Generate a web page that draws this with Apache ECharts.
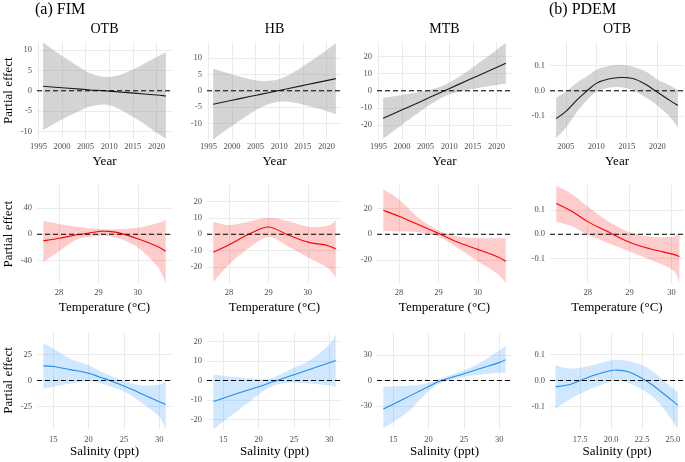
<!DOCTYPE html>
<html><head><meta charset="utf-8">
<script src="https://cdn.jsdelivr.net/npm/echarts@6/dist/echarts.min.js"></script>
<style>html,body{margin:0;padding:0;background:#fff}#c{width:685px;height:462px}</style>
</head><body><div id="c"></div>
<script>
// ---------- tick labels ----------
const yearTicksFIM = [1995, 2000, 2005, 2010, 2015, 2020];
const yearTicksPDEM = [2005, 2010, 2015, 2020];
const tempTicks = [28, 29, 30];
const salTicksFIM = [15, 20, 25, 30];
const salTicksPDEM = [17.5, 20, 22.5, 25];
const yTicksOtbYear = [-10, -5, 0, 5, 10];
const yTicksHbYear = [-10, -5, 0, 5, 10];
const yTicksMtbYear = [-20, -10, 0, 10, 20];
const yTicksPdem = [-0.1, 0, 0.1];
const yTicksOtbTemp = [-40, 0, 40];
const yTicksHbTemp = [-20, -10, 0, 10, 20];
const yTicksMtbTemp = [-20, 0, 20];
const yTicksOtbSal = [-25, 0, 25];
const yTicksHbSal = [-20, -10, 0, 10, 20];
const yTicksMtbSal = [-30, 0, 30];

// ---------- Year ----------
const fimYearX = [1996, 2000, 2004, 2006, 2009, 2012, 2016, 2020, 2022];
const fimOtbYearFit = [1.1, 0.75, 0.4, 0.2, 0.0, -0.3, -0.65, -1.05, -1.3];
const fimOtbYearLo = [-9.7, -7.1, -4.8, -3.9, -3.4, -4.4, -7.1, -10.3, -11.9];
const fimOtbYearHi = [11.9, 8.6, 5.6, 4.3, 3.4, 3.8, 5.8, 8.3, 9.5];
const fimHbYearFit = [-4.1, -2.9, -1.7, -1.1, -0.2, 0.7, 1.9, 3.1, 3.7];
const fimHbYearLo = [-14.9, -10.8, -6.9, -5.2, -3.6, -3.4, -4.6, -6.2, -7.2];
const fimHbYearHi = [6.7, 5.0, 3.5, 3.0, 3.2, 4.8, 8.4, 12.4, 14.6];
const fimMtbYearFit = [-16, -11.1, -6.2, -3.7, 0, 3.7, 8.6, 13.5, 16];
const fimMtbYearLo = [-27.8, -19.7, -11.8, -8.0, -3.3, -0.6, 1.6, 3.4, 4.2];
const fimMtbYearHi = [-4.2, -2.5, -0.6, 0.6, 3.3, 8.0, 15.6, 23.6, 27.8];
const pdemYearX = [2003.4, 2005, 2007, 2008.5, 2010, 2012, 2014, 2016, 2018, 2019.3, 2020, 2022, 2023.4];
const pdemOtbYearFit = [-0.110, -0.081, -0.032, 0.0, 0.029, 0.046, 0.052, 0.048, 0.027, 0.006, -0.005, -0.037, -0.058];
const pdemOtbYearLo = [-0.186, -0.146, -0.078, -0.036, -0.004, 0.012, 0.014, 0.003, -0.025, -0.045, -0.058, -0.100, -0.145];
const pdemOtbYearHi = [-0.027, -0.004, 0.035, 0.057, 0.083, 0.097, 0.102, 0.095, 0.077, 0.057, 0.044, 0.022, 0.003];

// ---------- Temperature ----------
const fimOtbTempX = [27.6, 28, 28.5, 29, 29.2, 29.5, 30, 30.5, 30.71];
const fimOtbTempFit = [-10, -6, -0.5, 4.3, 4.5, 2.5, -7, -18.7, -26];
const fimOtbTempLo = [-42.5, -26, -7, -2.5, -2.5, -6, -20, -49, -74];
const fimOtbTempHi = [20, 15.7, 11, 8, 7.8, 8, 10, 16.7, 21.8];
const fimTempX = [27.6, 28, 28.5, 29, 29.5, 30, 30.5, 30.71];
const fimHbTempFit = [-11, -6.4, 0, 4.4, -0.4, -4.8, -6.8, -9];
const fimHbTempLo = [-29, -18.4, -8.4, -1.6, -7.4, -14, -20.4, -26.4];
const fimHbTempHi = [7.6, 5.6, 7.6, 10, 8, 4.6, 5.2, 8.6];
const fimMtbTempFit = [18.7, 14, 7.4, 0.7, -6.3, -11.8, -17.6, -21];
const fimMtbTempLo = [2.6, 2.1, 1.6, -1.8, -11, -21, -30.8, -38.2];
const fimMtbTempHi = [35, 27, 12.6, 3.0, -1.8, -3.2, -3.2, -3.2];
const pdemTempX = [27.25, 27.64, 28, 28.44, 29, 29.49, 30.03, 30.19];
const pdemOtbTempFit = [0.127, 0.093, 0.052, 0.014, -0.033, -0.060, -0.082, -0.092];
const pdemOtbTempLo = [0.052, 0.032, -0.003, -0.033, -0.071, -0.105, -0.147, -0.198];
const pdemOtbTempHi = [0.200, 0.164, 0.114, 0.059, 0.008, -0.010, -0.010, 0.004];

// ---------- Salinity ----------
const fimSalX = [13.6, 15, 17.4, 20, 21.6, 23, 25, 27.3, 30, 30.9];
const fimOtbSalFit = [14.1, 13.5, 10.5, 7, 3.2, 0, -5.4, -12.2, -20.5, -23];
const fimOtbSalLo = [-7.7, -6, -2.9, -0.6, -2.6, -5.5, -10.5, -20.5, -35, -47.5];
const fimOtbSalHi = [35.6, 30.8, 21, 14.7, 9, 5, -0.5, -4.5, -4, -0.5];
const fimHbSalFit = [-10.8, -9.1, -6.2, -3.2, -1.2, 0.5, 3.0, 5.8, 9.1, 10.3];
const fimHbSalLo = [-25, -21, -14.5, -7.2, -3.5, -1.8, -1.2, -1.5, -2.5, -3.5];
const fimHbSalHi = [3.0, 2.5, 1.5, 0.7, 1.0, 3.0, 6.5, 10.5, 18.5, 23.7];
const fimMtbSalX = [13.6, 16.9, 19.8, 21.8, 25, 27.3, 30, 30.9];
const fimMtbSalFit = [-33.5, -20, -8, 0, 8, 14, 21, 24.5];
const fimMtbSalLo = [-56, -38, -14, -2.5, 4.3, 7, 9, 9];
const fimMtbSalHi = [-7.4, -6.2, -3.5, 2.5, 12, 21, 35.4, 40.5];
const pdemSalX = [15.5, 16.8, 18.5, 20.0, 20.6, 21.4, 22.8, 23.9, 25.4];
const pdemOtbSalFit = [-0.024, -0.013, 0.018, 0.038, 0.039, 0.033, 0.0, -0.037, -0.094];
const pdemOtbSalLo = [-0.109, -0.068, -0.030, -0.003, -0.003, -0.009, -0.043, -0.087, -0.182];
const pdemOtbSalHi = [0.058, 0.045, 0.058, 0.077, 0.078, 0.075, 0.052, 0.014, -0.046];

// ---------- layout / styles ----------
const FONT = 'Liberation Serif';
const colL = [37, 207, 377, 550];
const colR = [172, 342, 512, 684];
const rowT = [42, 185, 332];
const rowB = [139.5, 283.5, 429];
const xLabelMargin = [3, 4.5, 6];
const lineColors = ['#1a1a1a', '#ff0000', '#1f8ef1'];
const bandColors = ['rgba(153,153,153,0.42)', 'rgba(255,0,0,0.2)', 'rgba(30,144,255,0.21)'];

const panels = [
  {r:0,c:0,x:fimYearX,fit:fimOtbYearFit,lo:fimOtbYearLo,hi:fimOtbYearHi,xt:yearTicksFIM,yt:yTicksOtbYear,xr:[1994.7,2023.3],ym:12,xd:0,yd:0},
  {r:0,c:1,x:fimYearX,fit:fimHbYearFit,lo:fimHbYearLo,hi:fimHbYearHi,xt:yearTicksFIM,yt:yTicksHbYear,xr:[1994.7,2023.3],ym:14.9,xd:0,yd:0},
  {r:0,c:2,x:fimYearX,fit:fimMtbYearFit,lo:fimMtbYearLo,hi:fimMtbYearHi,xt:yearTicksFIM,yt:yTicksMtbYear,xr:[1994.7,2023.3],ym:28.3,xd:0,yd:0},
  {r:0,c:3,x:pdemYearX,fit:pdemOtbYearFit,lo:pdemOtbYearLo,hi:pdemOtbYearHi,xt:yearTicksPDEM,yt:yTicksPdem,xr:[2002.4,2024.4],ym:0.192,xd:0,yd:1},
  {r:1,c:0,x:fimOtbTempX,fit:fimOtbTempFit,lo:fimOtbTempLo,hi:fimOtbTempHi,xt:tempTicks,yt:yTicksOtbTemp,xr:[27.44,30.87],ym:75,xd:0,yd:0},
  {r:1,c:1,x:fimTempX,fit:fimHbTempFit,lo:fimHbTempLo,hi:fimHbTempHi,xt:tempTicks,yt:yTicksHbTemp,xr:[27.44,30.87],ym:30,xd:0,yd:0},
  {r:1,c:2,x:fimTempX,fit:fimMtbTempFit,lo:fimMtbTempLo,hi:fimMtbTempHi,xt:tempTicks,yt:yTicksMtbTemp,xr:[27.44,30.87],ym:38.4,xd:0,yd:0},
  {r:1,c:3,x:pdemTempX,fit:pdemOtbTempFit,lo:pdemOtbTempLo,hi:pdemOtbTempHi,xt:tempTicks,yt:yTicksPdem,xr:[27.1,30.3],ym:0.203,xd:0,yd:1},
  {r:2,c:0,x:fimSalX,fit:fimOtbSalFit,lo:fimOtbSalLo,hi:fimOtbSalHi,xt:salTicksFIM,yt:yTicksOtbSal,xr:[12.7,31.8],ym:46.7,xd:0,yd:0},
  {r:2,c:1,x:fimSalX,fit:fimHbSalFit,lo:fimHbSalLo,hi:fimHbSalHi,xt:salTicksFIM,yt:yTicksHbSal,xr:[12.7,31.8],ym:24.9,xd:0,yd:0},
  {r:2,c:2,x:fimMtbSalX,fit:fimMtbSalFit,lo:fimMtbSalLo,hi:fimMtbSalHi,xt:salTicksFIM,yt:yTicksMtbSal,xr:[12.7,31.8],ym:57,xd:0,yd:0},
  {r:2,c:3,x:pdemSalX,fit:pdemOtbSalFit,lo:pdemOtbSalLo,hi:pdemOtbSalHi,xt:salTicksPDEM,yt:yTicksPdem,xr:[15.06,25.9],ym:0.185,xd:1,yd:1}
];

// Catmull-Rom smoothing of projected pixel points into cubic Bezier commands
function smoothCmds(pts) {
  let d = '';
  const n = pts.length;
  for (let i = 0; i < n - 1; i++) {
    const p0 = pts[Math.max(i - 1, 0)], p1 = pts[i], p2 = pts[i + 1], p3 = pts[Math.min(i + 2, n - 1)];
    const c1 = [p1[0] + (p2[0] - p0[0]) / 6, p1[1] + (p2[1] - p0[1]) / 6];
    const c2 = [p2[0] - (p3[0] - p1[0]) / 6, p2[1] - (p3[1] - p1[1]) / 6];
    d += ' C' + c1[0] + ' ' + c1[1] + ' ' + c2[0] + ' ' + c2[1] + ' ' + p2[0] + ' ' + p2[1];
  }
  return d;
}

const grids = [], xAxes = [], yAxes = [], series = [];
const lbl = {fontFamily: FONT, fontSize: 8.5, color: '#4d4d4d'};
const split = {show: true, lineStyle: {color: '#ebebeb', width: 1}};

panels.forEach((p, i) => {
  grids.push({left: colL[p.c], top: rowT[p.r], width: colR[p.c] - colL[p.c], height: rowB[p.r] - rowT[p.r],
    containLabel: false, outerBoundsMode: 'none'});
  xAxes.push({type: 'value', gridIndex: i, min: p.xr[0], max: p.xr[1],
    axisLine: {show: false}, axisTick: {show: false, customValues: p.xt},
    axisLabel: Object.assign({customValues: p.xt, margin: xLabelMargin[p.r],
      formatter: v => Number(v).toFixed(p.xd)}, lbl),
    splitLine: split});
  yAxes.push({type: 'value', gridIndex: i, min: -p.ym, max: p.ym,
    axisLine: {show: false}, axisTick: {show: false, customValues: p.yt},
    axisLabel: Object.assign({customValues: p.yt, margin: 5,
      formatter: v => Number(v).toFixed(p.yd)}, lbl),
    splitLine: split});
  // ribbon, fitted smooth and zero reference line, all projected through the panel's axes
  series.push({type: 'custom', xAxisIndex: i, yAxisIndex: i, silent: true, z: 2, clip: true,
    data: [[p.x[0], p.fit[0]]],
    renderItem: (params, api) => {
      const up = p.x.map((x, k) => api.coord([x, p.hi[k]]));
      const dn = p.x.map((x, k) => api.coord([x, p.lo[k]])).reverse();
      const band = 'M' + up[0][0] + ' ' + up[0][1] + smoothCmds(up) +
        ' L' + dn[0][0] + ' ' + dn[0][1] + smoothCmds(dn) + ' Z';
      const fp = p.x.map((x, k) => api.coord([x, p.fit[k]]));
      const fit = 'M' + fp[0][0] + ' ' + fp[0][1] + smoothCmds(fp);
      const z0 = api.coord([p.xr[0], 0]), z1 = api.coord([p.xr[1], 0]);
      return {type: 'group', children: [
        {type: 'path', shape: {pathData: band}, style: {fill: bandColors[p.r], stroke: null}},
        {type: 'path', shape: {pathData: fit}, style: {fill: null, stroke: lineColors[p.r], lineWidth: 1.1}},
        {type: 'line', shape: {x1: z0[0], y1: z0[1], x2: z1[0], y2: z1[1]},
          style: {stroke: '#000', lineWidth: 1.2, lineDash: [5, 3]}}
      ]};
    }});
});

const graphics = [];
function txt(text, x, y, size, align, rot, color) {
  graphics.push({type: 'text', x: x, y: y, rotation: rot || 0, silent: true,
    style: {text: text, font: size + 'px "' + FONT + '"', fill: color || '#000', align: align, verticalAlign: 'middle'}});
}
txt('(a) FIM', 35, 9.5, 16, 'left');
txt('(b) PDEM', 549, 9.5, 16, 'left');
const colTitles = ['OTB', 'HB', 'MTB', 'OTB'];
colTitles.forEach((t, c) => txt(t, (colL[c] + colR[c]) / 2, 29, 14, 'center'));
const rowTitles = ['Year', 'Temperature (°C)', 'Salinity (ppt)'];
const rowTitleY = [162, 308, 452];
rowTitles.forEach((t, r) => colL.forEach((l, c) => txt(t, (l + colR[c]) / 2, rowTitleY[r], 13, 'center')));
rowT.forEach((t, r) => txt('Partial effect', 9, (t + rowB[r]) / 2, 13, 'center', Math.PI / 2));

const chart = echarts.init(document.getElementById('c'), null, {renderer: 'canvas'});
chart.setOption({animation: false, grid: grids, xAxis: xAxes, yAxis: yAxes, series: series, graphic: graphics});
</script></body></html>
